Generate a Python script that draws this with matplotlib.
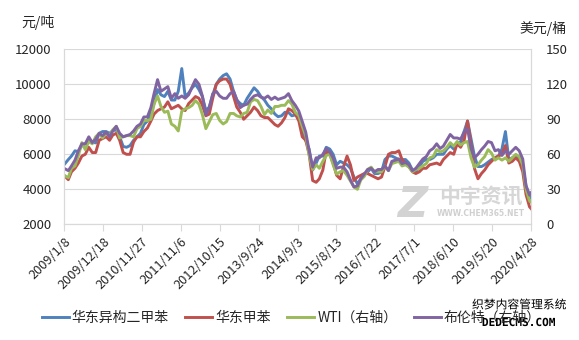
import matplotlib
matplotlib.use('Agg')
import matplotlib.pyplot as plt
import matplotlib.patheffects as pe
import pandas as pd

plt.rcParams['font.family'] = ['Noto Sans CJK SC', 'DejaVu Sans']

# ---- data (monthly readings; first point 2009/1/8, last 2020/4/28) ----
series_names = ['华东异构二甲苯', '华东甲苯', 'WTI（右轴）', '布伦特（右轴）']

px_iso = [
    5400, 5700, 5900, 6200, 6150, 6500, 6600, 6850, 6700, 6650, 7200, 7300,
    7300, 7200, 7350, 7400, 7000, 6450, 6400, 6500, 6800, 7000, 7200, 7700,
    7900, 8300, 8900, 9700, 9400, 9300, 9600, 9100, 9100, 9600, 10900, 9300,
    9500, 9800, 10000, 9700, 9300, 8500, 8700, 9400, 10000, 10300, 10500, 10600,
    10300, 9600, 9100, 8900, 8800, 9200, 9500, 9800, 9600, 9300, 9100, 8800,
    8600, 8300, 8150, 8200, 8400, 8400, 8200, 8250, 8300, 7300, 6800, 6300,
    5100, 5500, 5900, 5900, 6400, 6300, 6000, 5400, 5600, 5500, 5400, 5200,
    4700, 4300, 4600, 4800, 5000, 5200, 4900, 4900, 5000, 5700, 5900, 5900,
    5800, 5700, 5700, 5700, 5500, 5100, 5000, 5300, 5600, 5700, 5700, 5800,
    6000, 6000, 6000, 6300, 6500, 6300, 6600, 6700, 7300, 7900, 6900, 5900,
    5300, 5300, 5400, 5550, 5700, 5800, 5900, 6300, 7300, 5700, 5800, 5900,
    5800, 5300, 4200, 3600, 3500]

px_tol = [
    4800, 4550, 5000, 5200, 5500, 5900, 6000, 6400, 6100, 6100, 6800, 6900,
    7000, 6800, 7100, 7200, 6800, 6100, 6000, 6000, 6700, 7000, 7000, 7300,
    7500, 7900, 8300, 8500, 8600, 8700, 9000, 8600, 8700, 8800, 8600, 8500,
    8900, 9100, 9300, 9200, 8800, 8200, 8300, 9200, 10000, 10200, 10300, 10300,
    10000, 9300, 8700, 8400, 8000, 8200, 8400, 8700, 8500, 8200, 8100, 8100,
    7900, 7700, 7600, 7800, 8100, 8600, 8500, 8300, 7900, 7000, 6800, 6000,
    4500, 4400, 4600, 5100, 6200, 6000, 5500, 4800, 4600, 5300, 5900, 5400,
    4500, 4700, 4800, 4900, 4900, 4800, 4700, 4600, 4700, 5300, 6000, 6100,
    6100, 6200, 5700, 5500, 5300, 5000, 4900, 5000, 5200, 5200, 5400, 5450,
    5500, 5400, 5700, 5900, 6100, 6000, 6600, 6400, 6800, 7900, 6600, 5200,
    4600, 4900, 5100, 5400, 5600, 5800, 5900, 6000, 6500, 5500, 5600, 5800,
    5600, 5000, 3700, 3000, 2900]

wti = [
    42, 40, 48, 50, 59, 70, 64, 71, 69, 75, 78, 74,
    78, 76, 81, 84, 74, 75, 76, 76, 75, 82, 84, 89,
    89, 90, 103, 110, 101, 96, 97, 86, 84, 80, 97, 99,
    100, 102, 106, 103, 94, 82, 88, 94, 95, 89, 86, 88,
    95, 95, 93, 92, 95, 96, 105, 107, 106, 101, 94, 98,
    95, 101, 101, 102, 102, 106, 103, 96, 93, 84, 76, 59,
    47, 51, 48, 54, 59, 60, 51, 43, 45, 46, 42, 37,
    32, 30, 38, 41, 47, 49, 45, 45, 45, 50, 46, 52,
    53, 54, 50, 51, 49, 45, 47, 48, 50, 52, 57, 58,
    64, 62, 63, 66, 70, 67, 71, 68, 70, 71, 57, 49,
    51, 55, 58, 64, 61, 55, 57, 55, 57, 54, 57, 60,
    58, 51, 30, 20, 19]

brent = [
    48, 46, 50, 55, 63, 69, 69, 75, 70, 73, 78, 76,
    79, 75, 80, 84, 78, 75, 76, 77, 80, 84, 86, 92,
    92, 100, 112, 124, 114, 116, 118, 108, 112, 108, 110, 108,
    111, 118, 124, 120, 110, 94, 100, 112, 114, 110, 108, 108,
    112, 114, 107, 100, 102, 103, 107, 110, 111, 109, 108, 110,
    107, 109, 107, 108, 109, 112, 106, 102, 97, 88, 79, 63,
    49, 57, 57, 60, 65, 62, 57, 48, 49, 49, 45, 38,
    32, 33, 39, 43, 47, 48, 45, 47, 47, 50, 46, 54,
    55, 56, 52, 53, 51, 46, 48, 52, 56, 58, 63, 65,
    69, 65, 67, 72, 77, 74, 74, 73, 79, 82, 65, 57,
    60, 64, 67, 71, 70, 63, 64, 59, 63, 60, 63, 66,
    63, 56, 33, 25, 27]

tick_labels = ['2009/1/8', '2009/12/18', '2010/11/27', '2011/11/6', '2012/10/15',
               '2013/9/24', '2014/9/3', '2015/8/13', '2016/7/22', '2017/7/1',
               '2018/6/10', '2019/5/20', '2020/4/28']

colors = ['#4F81BD', '#C0504D', '#9BBB59', '#8064A2']

dates = ([pd.Timestamp('2009-01-08')]
         + list(pd.date_range('2009-02-01', '2020-04-01', freq='MS') + pd.Timedelta(days=14))
         + [pd.Timestamp('2020-04-28')])

fig = plt.figure(figsize=(5.79, 3.40), dpi=100)
ax = fig.add_axes([64 / 579, 1 - 224.3 / 340, (531 - 64) / 579, 175 / 340])
ax2 = ax.twinx()

h1, = ax.plot(dates, px_iso, color=colors[0], lw=2.1)
h2, = ax.plot(dates, px_tol, color=colors[1], lw=2.1)
h3, = ax2.plot(dates, wti, color=colors[2], lw=2.1)
h4, = ax2.plot(dates, brent, color=colors[3], lw=2.1)

ax.set_ylim(2000, 12000)
ax.set_yticks(range(2000, 12001, 2000))
ax2.set_ylim(0, 150)
ax2.set_yticks(range(0, 151, 30))
ax.set_xlim(dates[0], dates[-1])
ticks = pd.to_datetime(tick_labels, format='%Y/%m/%d')
ax.set_xticks(ticks)
ax.set_xticklabels(tick_labels, rotation=45, ha='right', va='top', rotation_mode='anchor')

ax.grid(axis='y', color='#D9D9D9', lw=0.8)
ax.set_axisbelow(True)
txtc = '#262626'
for a in (ax, ax2):
    a.spines['top'].set_visible(False)
    for s in ('left', 'right', 'bottom'):
        a.spines[s].set_color('#D9D9D9')
        a.spines[s].set_linewidth(0.8)
ax.tick_params(axis='y', length=0, pad=9, labelsize=9.5, colors=txtc)
ax2.tick_params(axis='y', length=0, pad=11, labelsize=9.5, colors=txtc)
ax.tick_params(axis='x', length=5, width=0.8, color='#D9D9D9', pad=3, labelsize=9.2, labelcolor=txtc)

fig.text(21 / 579, 1 - 23 / 340, '元/吨', ha='left', va='center', fontsize=10, color=txtc)
fig.text(567 / 579, 1 - 28 / 340, '美元/桶', ha='right', va='center', fontsize=10, color=txtc)

fig.legend([h1, h2, h3, h4], series_names, loc='center', bbox_to_anchor=(0.503, 1 - 318 / 340),
           ncol=4, frameon=False, fontsize=10, handlelength=1.95, handletextpad=0.2,
           columnspacing=1.2, labelcolor=txtc)

# watermarks
fig.text(412 / 579, 1 - 205 / 340, 'Z', ha='center', va='center', fontsize=30, fontweight='bold',
         color='#D3D3D3', family='DejaVu Sans', style='italic')
fig.text(481 / 579, 1 - 197 / 340, '中宇资讯', ha='center', va='center', fontsize=15,
         fontweight='bold', color='#D6D6D6')
fig.text(481 / 579, 1 - 214 / 340, 'WWW.CHEM365.NET', ha='center', va='center', fontsize=5.5,
         fontweight='bold', color='#D0D0D0', family='DejaVu Sans')
t1 = fig.text(519 / 579, 1 - 305 / 340, '织梦内容管理系统', ha='center', va='center', fontsize=8.5,
              color='black')
t2 = fig.text(519 / 579, 1 - 323 / 340, 'DEDECMS.COM', ha='center', va='center', fontsize=8,
              color='black', family='DejaVu Sans Mono', fontweight='bold')
for t in (t1, t2):
    t.set_path_effects([pe.withStroke(linewidth=2.5, foreground='white')])

fig.savefig('out.png', dpi=100)
